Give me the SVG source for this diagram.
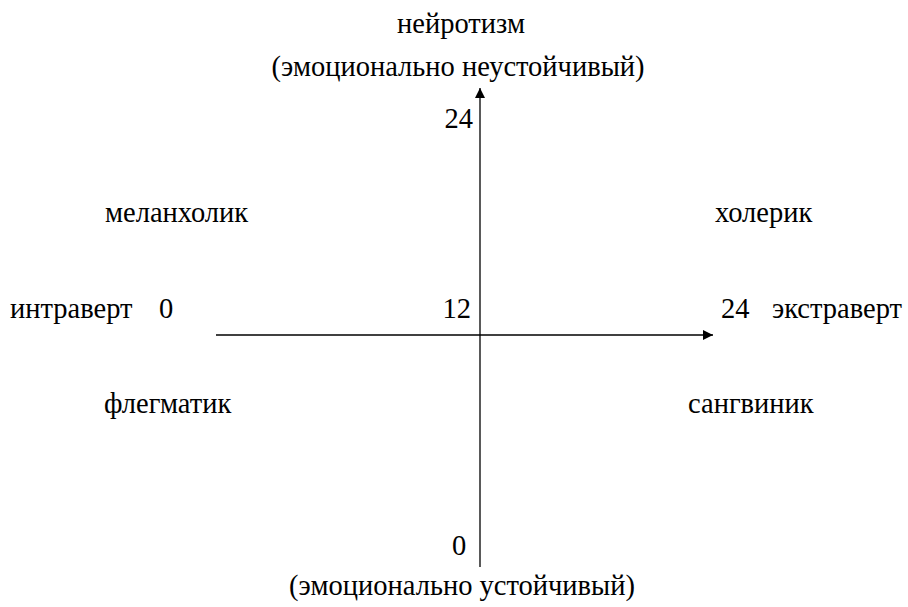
<svg xmlns="http://www.w3.org/2000/svg" width="908" height="607" viewBox="0 0 908 607">
<style>
text{font-family:"Liberation Serif","Times New Roman",serif;font-size:28.5px;fill:#000}
.ax{stroke:#000;stroke-width:1.3;fill:none}
</style>
<defs>
<marker id="ah" viewBox="0 0 10 10" refX="10" refY="5" markerWidth="10" markerHeight="10" markerUnits="userSpaceOnUse" orient="auto">
<path d="M0,0 L10,5 L0,10 z" fill="#000"/>
</marker>
</defs>
<g id="connectors">
<line class="ax" x1="480" y1="567" x2="480" y2="88" marker-end="url(#ah)"/>
<line class="ax" x1="216" y1="335" x2="713" y2="335" marker-end="url(#ah)"/>
</g>
<g id="top-label"><text x="461" y="33" text-anchor="middle">нейротизм</text><text x="458" y="76" text-anchor="middle">(эмоционально неустойчивый)</text></g>
<g id="y24"><text x="473" y="128" text-anchor="end">24</text></g>
<g id="melancholic"><text x="105" y="222">меланхолик</text></g>
<g id="choleric"><text x="715" y="222">холерик</text></g>
<g id="introvert"><text x="10" y="318">интраверт</text><text x="159" y="318">0</text></g>
<g id="center12"><text x="471" y="318" text-anchor="end">12</text></g>
<g id="extravert"><text x="721" y="318">24</text><text x="772" y="318">экстраверт</text></g>
<g id="phlegmatic"><text x="104" y="413">флегматик</text></g>
<g id="sanguine"><text x="688" y="413">сангвиник</text></g>
<g id="y0"><text x="452" y="555">0</text></g>
<g id="bottom-label"><text x="462" y="595" text-anchor="middle">(эмоционально устойчивый)</text></g>
</svg>
